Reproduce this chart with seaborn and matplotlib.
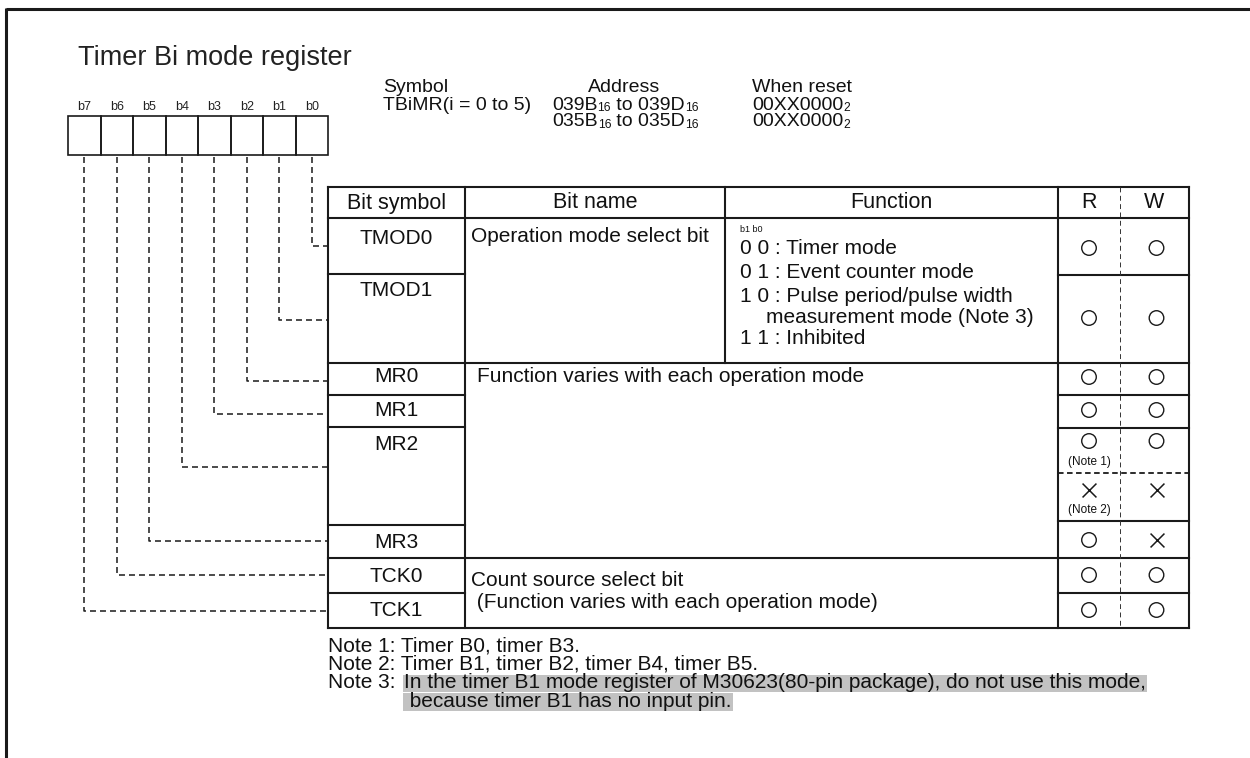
# Timer Bi mode register diagram (register bit map + bit table)

import re
import matplotlib
matplotlib.use("Agg")
import matplotlib.pyplot as plt
import seaborn as sns

# --- Data ---
TITLE = 'Timer Bi mode register'
BIT_LABELS = ['b7', 'b6', 'b5', 'b4', 'b3', 'b2', 'b1', 'b0']

INFO_HEADERS = ['Symbol', 'Address', 'When reset']
REG_SYMBOL = 'TBiMR(i = 0 to 5)'
ADDRESSES = ['039B_{16} to 039D_{16}', '035B_{16} to 035D_{16}']
RESET_VALUES = ['00XX0000_{2}', '00XX0000_{2}']

HEADERS = ['Bit symbol', 'Bit name', 'Function', 'R', 'W']
BIT_SYMBOLS = ['TMOD0', 'TMOD1', 'MR0', 'MR1', 'MR2', 'MR3', 'TCK0', 'TCK1']
SYMBOL_BITS = [0, 1, 2, 3, 4, 5, 6, 7]   # register bit each symbol is wired to

BIT_NAMES = ['Operation mode select bit',
             'Function varies with each operation mode',
             'Count source select bit',
             ' (Function varies with each operation mode)']
FUNCTION_HEAD = 'b1 b0'
FUNCTION_LINES = ['0 0 : Timer mode',
                  '0 1 : Event counter mode',
                  '1 0 : Pulse period/pulse width',
                  'measurement mode (Note 3)',
                  '1 1 : Inhibited']

ACCESS_ROWS = ['TMOD0', 'TMOD1', 'MR0', 'MR1', 'MR2 (Note 1)', 'MR2 (Note 2)',
               'MR3', 'TCK0', 'TCK1']
READ = ['o', 'o', 'o', 'o', 'o', 'x', 'o', 'o', 'o']
WRITE = ['o', 'o', 'o', 'o', 'o', 'x', 'x', 'o', 'o']
ACCESS_NOTES = ['', '', '', '', '(Note 1)', '(Note 2)', '', '', '']

NOTES = ['Note 1: Timer B0, timer B3.',
         'Note 2: Timer B1, timer B2, timer B4, timer B5.',
         'Note 3: ']
NOTE3_TEXT = ['In the timer B1 mode register of M30623(80-pin package), do not use this mode,',
              ' because timer B1 has no input pin.']

# --- Layout (pixel coordinates, y down) ---
W, H = 1250, 758
REG_X0, REG_Y0, REG_Y1, CELL = 68, 115.5, 155, 32.5
COL_X = [328, 465, 725, 1058, 1120, 1189]
HEAD_TOP, HEAD_BOT, TAB_BOT = 187, 218, 628
SYM_LINES = [274, 363, 395, 427, 525, 558, 593]
RW_LINES = [275, 363, 395, 428, 521, 558, 593]
SYM_TEXT_Y = [238, 290, 377, 410.5, 444.5, 542.5, 576.5, 610]
LINK_Y = [246, 320, 381, 414, 467, 541, 575, 611]
ACCESS_Y = [248, 318, 377, 410, 441, 490, 540, 575, 610]
NOTE_Y = [646, 664.5, 683, 701.5]
INFO_BASE = [92.5, 109.5, 126.5]

FS_TITLE, FS_BIT, FS_INFO = 19.5, 9, 14
FS_HEAD, FS_BODY, FS_NOTE = 15.5, 15, 15
LINE_C = '#1a1a1a'
HILITE = '#c2c2c2'

sns.set_theme(style="white")
plt.rcParams['font.family'] = ['Liberation Sans', 'DejaVu Sans']
plt.rcParams['lines.scale_dashes'] = False


def draw_runs(ax, renderer, x, y, s, size, ha='left'):
    # text with small subscripts written as _{..}; 1 data unit == 1 pixel here
    parts = [p for p in re.split(r'(_\{[^}]*\})', s) if p]
    items = []
    for p in parts:
        if p.startswith('_{'):
            t = ax.text(0, y + 1.5, p[2:-1], fontsize=size * 0.62, va='baseline', color='#111')
        else:
            t = ax.text(0, y, p, fontsize=size, va='baseline', color='#111')
        items.append(t)
    widths = [t.get_window_extent(renderer).width for t in items]
    if ha == 'center':
        x -= sum(widths) / 2
    for t, w in zip(items, widths):
        t.set_x(x)
        x += w


def main():
    fig = plt.figure(figsize=(W / 100, H / 100), dpi=100)
    ax = fig.add_axes([0, 0, 1, 1])
    ax.set_xlim(0, W)
    ax.set_ylim(H, 0)
    ax.axis('off')
    renderer = fig.canvas.get_renderer()

    # outer frame (top and left only)
    ax.plot([6, W], [9, 9], color=LINE_C, lw=2.2, solid_capstyle='butt')
    ax.plot([6, 6], [8, H], color=LINE_C, lw=2.2, solid_capstyle='butt')

    ax.text(78, 65, TITLE, fontsize=FS_TITLE, va='baseline', ha='left', color='#222')

    # register boxes
    for i, lab in enumerate(BIT_LABELS):
        x0 = REG_X0 + CELL * i
        ax.add_patch(plt.Rectangle((x0, REG_Y0), CELL, REG_Y1 - REG_Y0,
                                   fill=False, ec=LINE_C, lw=1.2))
        ax.text(x0 + CELL / 2, 110, lab, fontsize=FS_BIT, ha='center', va='baseline', color='#222')

    # symbol / address / reset block
    ax.text(383, INFO_BASE[0], INFO_HEADERS[0], fontsize=FS_INFO, ha='left', va='baseline', color='#111')
    ax.text(624, INFO_BASE[0], INFO_HEADERS[1], fontsize=FS_INFO, ha='center', va='baseline', color='#111')
    ax.text(752, INFO_BASE[0], INFO_HEADERS[2], fontsize=FS_INFO, ha='left', va='baseline', color='#111')
    ax.text(383, INFO_BASE[1], REG_SYMBOL, fontsize=FS_INFO, ha='left', va='baseline', color='#111')
    for k in range(2):
        draw_runs(ax, renderer, 552, INFO_BASE[k + 1], ADDRESSES[k], FS_INFO)
        draw_runs(ax, renderer, 752, INFO_BASE[k + 1], RESET_VALUES[k], FS_INFO)

    # dashed connectors from register bits to table rows
    for sym, bit, ly in zip(BIT_SYMBOLS, SYMBOL_BITS, LINK_Y):
        x = REG_X0 + CELL * (7 - bit + 0.5)
        ax.plot([x, x, COL_X[0]], [REG_Y1 + 2, ly, ly], color=LINE_C, lw=1.1,
                dashes=(4.3, 2.9))

    # table frame
    tl = dict(color=LINE_C, lw=1.5, solid_capstyle='projecting')
    ax.plot([COL_X[0], COL_X[-1]], [HEAD_TOP, HEAD_TOP], **tl)
    ax.plot([COL_X[0], COL_X[-1]], [HEAD_BOT, HEAD_BOT], **tl)
    ax.plot([COL_X[0], COL_X[-1]], [TAB_BOT, TAB_BOT], **tl)
    for x in [COL_X[0], COL_X[1], COL_X[3], COL_X[5]]:
        ax.plot([x, x], [HEAD_TOP, TAB_BOT], **tl)
    ax.plot([COL_X[2], COL_X[2]], [HEAD_TOP, 363], **tl)
    for y in SYM_LINES:
        ax.plot([COL_X[0], COL_X[1]], [y, y], **tl)
    for y in RW_LINES:
        ax.plot([COL_X[3], COL_X[5]], [y, y], **tl)
    for y in [363, 558]:
        ax.plot([COL_X[1], COL_X[3]], [y, y], **tl)
    ax.plot([COL_X[4], COL_X[4]], [HEAD_TOP, TAB_BOT], color='#333', lw=0.7, dashes=(3.5, 2.5))
    ax.plot([COL_X[3], COL_X[5]], [473, 473], color=LINE_C, lw=1.3, dashes=(4, 2.5))

    # header
    for j, h in enumerate(HEADERS):
        xc = (COL_X[j] + COL_X[j + 1]) / 2
        ax.text(xc, 203, h, fontsize=FS_HEAD, ha='center', va='center', color='#111')

    # bit symbols
    for sym, ty in zip(BIT_SYMBOLS, SYM_TEXT_Y):
        ax.text((COL_X[0] + COL_X[1]) / 2, ty, sym, fontsize=FS_BODY, ha='center', va='center', color='#111')

    # bit names
    ax.text(471, 237, BIT_NAMES[0], fontsize=FS_BODY, ha='left', va='center', color='#111')
    ax.text(477, 377, BIT_NAMES[1], fontsize=FS_BODY, ha='left', va='center', color='#111')
    ax.text(471, 580, BIT_NAMES[2], fontsize=FS_BODY, ha='left', va='center', color='#111')
    ax.text(471, 603, BIT_NAMES[3], fontsize=FS_BODY, ha='left', va='center', color='#111')

    # function column
    ax.text(740, 229, FUNCTION_HEAD, fontsize=6.5, ha='left', va='center', color='#111')
    func_x = [740, 740, 740, 766, 740]
    func_y = [249, 273, 296.5, 317.5, 338]
    for txt, fx, fy in zip(FUNCTION_LINES, func_x, func_y):
        ax.text(fx, fy, txt, fontsize=FS_BODY, ha='left', va='center', color='#111')

    # R / W access marks
    rx = (COL_X[3] + COL_X[4]) / 2
    wx = (COL_X[4] + COL_X[5]) / 2 + 2
    for col, xpos in [(READ, rx), (WRITE, wx)]:
        for mark, ay in zip(col, ACCESS_Y):
            if mark == 'o':
                ax.scatter([xpos], [ay], s=110, marker='o', facecolors='none',
                           edgecolors=LINE_C, linewidths=1.0, zorder=3)
            else:
                ax.scatter([xpos], [ay], s=100, marker='x', color=LINE_C,
                           linewidths=1.1, zorder=3)
    for note, ay in zip(ACCESS_NOTES, ACCESS_Y):
        if note:
            ax.text(rx, ay + 20.5, note, fontsize=8.5, ha='center', va='center', color='#111')

    # notes
    for txt, ny in zip(NOTES, NOTE_Y):
        ax.text(328, ny, txt, fontsize=FS_NOTE, ha='left', va='center', color='#111')
    for txt, ny in zip(NOTE3_TEXT, NOTE_Y[2:]):
        t = ax.text(404, ny, txt, fontsize=FS_NOTE, ha='left', va='center', color='#111', zorder=3)
        w = t.get_window_extent(renderer).width
        ax.add_patch(plt.Rectangle((403, ny - 8.5), w + 2, 17.5, fc=HILITE, ec='none', zorder=2))

    fig.savefig('out.png', dpi=100, facecolor='white')
    plt.close(fig)


if __name__ == "__main__":
    main()
